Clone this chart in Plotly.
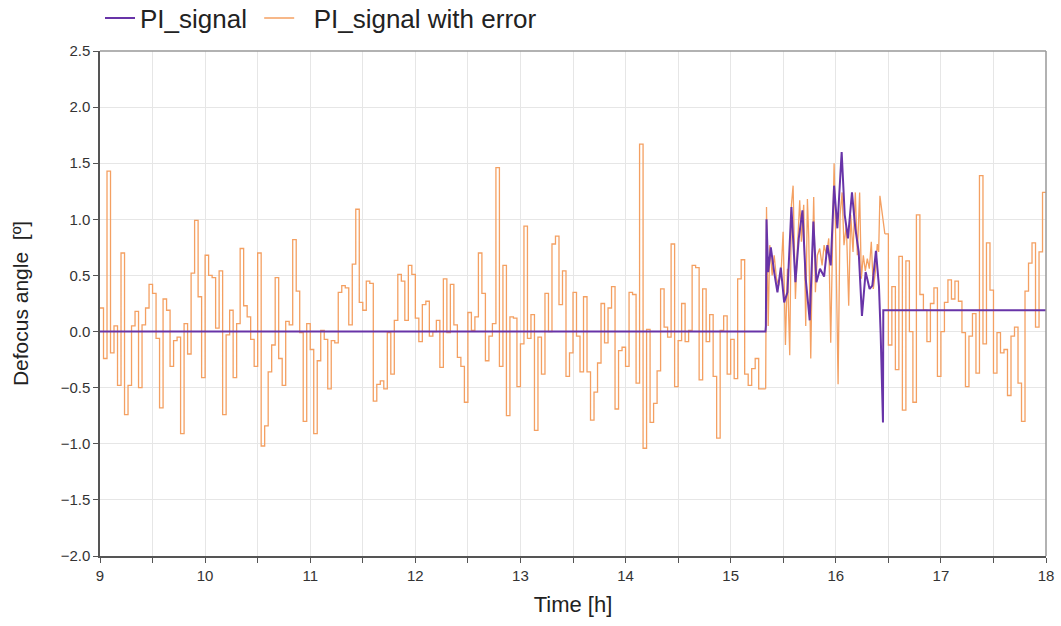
import plotly.graph_objects as go

# ---------------- data ----------------
STEP_H = 1 / 30  # 2-minute sample-and-hold period of the error signal

# PI_signal with error: stepped values 9:00 -> 15:20
err_pre = [
    0.21, -0.24, 1.43, -0.19, 0.05, -0.48, 0.70, -0.74, -0.48, 0.05,
    0.18, -0.50, 0.06, 0.21, 0.42, 0.34, -0.06, -0.68, 0.29, 0.19,
    -0.31, -0.08, -0.05, -0.91, 0.07, -0.20, 0.52, 0.99, 0.31, -0.41,
    0.68, 0.50, 0.48, 0.03, 0.54, -0.74, -0.03, 0.19, -0.41, 0.07,
    0.74, 0.23, 0.13, -0.07, -0.31,
    0.70, -1.02, -0.84, -0.36, -0.12, 0.48, -0.24, -0.48, 0.09, 0.06,
    0.82, 0.36, -0.01, -0.80, 0.07, -0.16, -0.91, -0.26, 0.01, -0.07,
    -0.51, -0.08, -0.10, 0.35, 0.41, 0.39, 0.06, 0.60, 1.09, 0.26,
    0.19, 0.45, 0.43, -0.62, -0.47, -0.44, -0.51, -0.01, -0.38, 0.10,
    0.51, 0.45, 0.10, 0.59, 0.51,
    0.12, -0.09, 0.24, 0.27, -0.04, 0.00, 0.10, -0.32, 0.47, -0.01,
    0.42, 0.06, -0.23, -0.31, -0.63, 0.17, 0.01, 0.13, 0.70, 0.34,
    -0.26, -0.04, 0.07, 1.46, -0.31, 0.59, -0.75, 0.13, 0.12, -0.49,
    -0.11, 0.94, -0.06, 0.15, -0.88, -0.05, -0.38, 0.34, 0.00, 0.78,
    0.85, 0.24, 0.54, -0.40, -0.19, 0.35,
    -0.04, -0.36, 0.31, -0.36, -0.79, -0.54, -0.28, 0.25, -0.10, 0.21,
    0.40, -0.69, -0.17, -0.14, -0.31, 0.35, 0.33, -0.46, 1.67, -1.04,
    0.02, -0.81, -0.64, -0.35, 0.38, 0.04, -0.05, 0.78, -0.49, -0.08,
    0.25, -0.09, 0.01, 0.59, 0.57, -0.43, 0.38, -0.09, 0.15, -0.40,
    -0.95, 0.01, 0.14, -0.38, -0.07,
    -0.42, 0.47, 0.64, -0.38, -0.48, -0.33, -0.24, -0.51, -0.51,
]
err_pre_start = 9.0

# PI_signal with error: continuous part while the controller acts
err_mid_t = [
    15.333, 15.341, 15.357, 15.372, 15.395, 15.414, 15.436, 15.458, 15.483, 15.499,
    15.521, 15.540, 15.562, 15.578, 15.594, 15.616, 15.635, 15.657, 15.673, 15.695,
    15.714, 15.730, 15.743, 15.762, 15.775, 15.790, 15.806, 15.825, 15.847, 15.870,
    15.889, 15.911, 15.933, 15.952, 15.971, 15.984, 16.003, 16.022, 16.041, 16.060,
    16.078, 16.101, 16.123, 16.142, 16.164, 16.186, 16.205, 16.227, 16.243, 16.262,
    16.281, 16.300, 16.319, 16.338, 16.357, 16.376, 16.395, 16.408, 16.420, 16.439,
    16.452, 16.467,
]
err_mid_v = [
    -0.51, 1.11, 0.05, 0.77, 0.50, 0.68, 0.47, 0.41, 0.59, 0.89,
    -0.12, 0.56, -0.21, 1.13, 1.30, 0.29, 0.74, 1.17, 0.80, 1.13,
    0.05, 1.18, 0.83, -0.24, 0.53, 1.20, 0.35, 0.68, 0.74, 0.59,
    0.77, 0.68, 0.83, -0.10, 0.89, 1.50, 0.68, -0.47, 1.04, 1.24,
    0.77, 0.95, 0.23, 1.04, 0.71, 1.24, 0.68, 1.24, 0.47, 0.68,
    0.54, 0.65, 0.56, 0.80, 0.38, 0.53, 0.78, 0.71, 1.21, 1.07,
    0.99, 0.87,
]

# PI_signal with error: stepped values after the event
err_post = [
    0.87, -0.12, 0.40, -0.34, 0.67, -0.70, 0.63, 0.00, -0.63, 1.04,
    0.33, 0.19, -0.09, 0.25, 0.39, -0.40, 0.00, 0.26, 0.46, 0.29,
    0.45, 0.27, -0.01, -0.49, -0.04, 0.16, -0.37, 1.39, -0.11, 0.79,
    0.37, -0.37, -0.01, -0.19, -0.16, -0.57, -0.04, 0.04, -0.46, -0.80,
    0.36, 0.61, 0.79, 0.04, 0.71, 1.24,
]
err_post_start = 16.467
t_end = 18.0

# PI_signal
pi_t = [
    9.0, 15.331, 15.335, 15.341, 15.357, 15.382, 15.414, 15.445, 15.477, 15.509,
    15.540, 15.578, 15.616, 15.648, 15.683, 15.714, 15.752, 15.787, 15.816, 15.850,
    15.889, 15.920, 15.952, 15.984, 16.015, 16.056, 16.085, 16.116, 16.154, 16.186,
    16.218, 16.249, 16.284, 16.322, 16.348, 16.382, 16.411, 16.427, 16.449, 16.452,
    18.0,
]
pi_v = [
    0.0, 0.0, 0.05, 1.00, 0.53, 0.75, 0.53, 0.35, 0.57, 0.26,
    0.35, 1.11, 0.44, 0.83, 1.08, 0.47, 0.10, 0.98, 0.44, 0.56,
    0.49, 0.77, 0.59, 1.30, 0.92, 1.60, 1.04, 0.83, 1.24, 0.92,
    0.71, 0.14, 0.53, 0.38, 0.41, 0.72, 0.40, -0.02, -0.81, 0.19,
    0.19,
]

x_ticks = [9 + 0.5 * i for i in range(19)]
x_tick_text = [str(int(v)) if v == int(v) else "" for v in x_ticks]
y_ticks = [-2.0, -1.5, -1.0, -0.5, 0.0, 0.5, 1.0, 1.5, 2.0, 2.5]

# ---------------- figure ----------------
ORANGE = "rgb(244,160,98)"
PURPLE = "rgb(104,52,168)"


def step_xy(start, vals, end):
    xs = [start + i * STEP_H for i in range(len(vals))] + [end]
    ys = list(vals) + [vals[-1]]
    return xs, ys


x1, y1 = step_xy(err_pre_start, err_pre, err_mid_t[0])
x3, y3 = step_xy(err_post_start, err_post, t_end)

fig = go.Figure()
fig.add_trace(go.Scatter(x=x1, y=y1, mode="lines", line=dict(color=ORANGE, width=1.3, shape="hv"),
                         name="PI_signal with error", legendgroup="err", showlegend=False))
fig.add_trace(go.Scatter(x=x3, y=y3, mode="lines", line=dict(color=ORANGE, width=1.3, shape="hv"),
                         name="PI_signal with error", legendgroup="err", showlegend=False))
fig.add_trace(go.Scatter(x=err_mid_t, y=err_mid_v, mode="lines", line=dict(color=ORANGE, width=1.3),
                         name="PI_signal with error", legendgroup="err", showlegend=False))
fig.add_trace(go.Scatter(x=pi_t, y=pi_v, mode="lines", line=dict(color=PURPLE, width=2),
                         name="PI_signal\u00a0", legendgroup="pi"))
fig.add_trace(go.Scatter(x=[None], y=[None], mode="lines", line=dict(color=ORANGE, width=1.5),
                         name="\u00a0\u00a0PI_signal with error", legendgroup="err"))

fig.update_layout(
    width=1061, height=626,
    margin=dict(l=100, r=15, t=51, b=70, autoexpand=False),
    paper_bgcolor="white", plot_bgcolor="white",
    font=dict(family="Liberation Sans, Arial, sans-serif", size=15, color="#333"),
    legend=dict(orientation="h", x=0.0, xanchor="left", xref="paper",
                y=1 - 18 / 626, yanchor="middle", yref="container",
                font=dict(size=26, color="#222"), bgcolor="rgba(0,0,0,0)",
                traceorder="normal", itemwidth=30),
    showlegend=True,
    shapes=[
        dict(type="line", xref="paper", yref="paper", x0=0, x1=1, y0=1, y1=1,
             line=dict(color="#999", width=1.5)),
        dict(type="line", xref="paper", yref="paper", x0=1, x1=1, y0=0, y1=1,
             line=dict(color="#999", width=1.5)),
    ],
)
fig.update_xaxes(
    range=[9, 18], tickmode="array", tickvals=x_ticks, ticktext=x_tick_text,
    showgrid=True, gridcolor="#e6e6e6", gridwidth=1,
    showline=True, linecolor="#555", linewidth=1.5,
    ticks="outside", ticklen=5, tickcolor="#555",
    tickfont=dict(size=15, color="#333"),
    title=dict(text="Time [h]", font=dict(size=22, color="#222"), standoff=14),
    zeroline=False,
)
fig.update_yaxes(
    range=[-2.0, 2.5], tickmode="array", tickvals=y_ticks,
    tickformat=".1f",
    showgrid=True, gridcolor="#e6e6e6", gridwidth=1,
    showline=True, linecolor="#555", linewidth=1.5,
    ticks="outside", ticklen=5, tickcolor="#555",
    tickfont=dict(size=15, color="#333"),
    title=dict(text="Defocus angle \u00a0[º]", font=dict(size=21, color="#222"), standoff=26),
    zeroline=False,
)

fig.write_html("out.html")
